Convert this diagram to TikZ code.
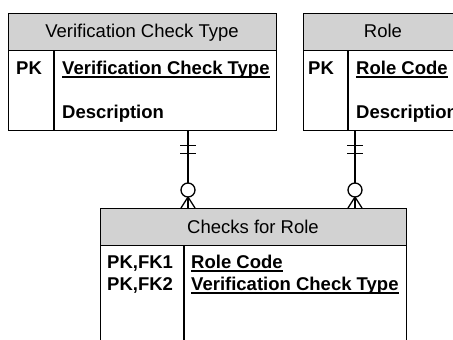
\documentclass[tikz,border=0pt]{standalone}
\usepackage{fontspec}
\setmainfont{Liberation Sans}
\usetikzlibrary{calc}
\definecolor{hdrgray}{RGB}{210,210,210}
\begin{document}
\begin{tikzpicture}[x=1pt,y=-1pt,
  every node/.style={font=\fontsize{18.5}{21}\selectfont},
  boxline/.style={draw=black, line width=1.3pt},
  hdr/.style={boxline, fill=hdrgray, rectangle, inner sep=0pt, anchor=north west},
  bodybox/.style={boxline, fill=white, rectangle, inner sep=0pt, anchor=north west},
  ttl/.style={inner sep=0pt, anchor=base},
  fld/.style={inner sep=0pt, anchor=base west, font=\fontsize{18.5}{21}\selectfont\bfseries},
  ul/.style={line width=1.3pt},
  conn/.style={draw=black, line width=1.3pt}]
\useasboundingbox (0,0) rectangle (453,340);
\begin{scope}
\clip (0,0) rectangle (453,340);
% Verification Check Type
\node[bodybox, minimum width=268pt, minimum height=80pt] (vctB) at (8,50) {};
\node[hdr, minimum width=268pt, minimum height=37pt] (vctH) at (8,13) {};
\draw[boxline] (54,50) -- (54,130);
\node[ttl] (vctT) at (142,37) {Verification Check Type};
\node[fld] (vctPK) at (16,74) {PK};
\node[fld] (vctA1) at (62,74) {Verification Check Type};
\draw[ul] ($(vctA1.base west)+(0,3)$) -- ($(vctA1.base east)+(0,3)$);
\node[fld] (vctA2) at (62,118) {Description};
% Role
\node[bodybox, minimum width=160pt, minimum height=80pt] (roleB) at (303,50) {};
\node[hdr, minimum width=160pt, minimum height=37pt] (roleH) at (303,13) {};
\draw[boxline] (348,50) -- (348,130);
\node[ttl] (roleT) at (383,37) {Role};
\node[fld] (rolePK) at (308,74) {PK};
\node[fld] (roleA1) at (356,74) {Role Code};
\draw[ul] ($(roleA1.base west)+(0,3)$) -- ($(roleA1.base east)+(0,3)$);
\node[fld] (roleA2) at (356,118) {Description};
% Checks for Role
\node[bodybox, minimum width=306pt, minimum height=110pt] (cfrB) at (100,245) {};
\node[hdr, minimum width=306pt, minimum height=37pt] (cfrH) at (100,208) {};
\draw[boxline] (184,245) -- (184,350);
\node[ttl] (cfrT) at (253,233) {Checks for Role};
\node[fld] (cfrK1) at (107,268) {PK,FK1};
\node[fld] (cfrK2) at (107,290) {PK,FK2};
\node[fld] (cfrA1) at (191,268) {Role Code};
\draw[ul] ($(cfrA1.base west)+(0,3)$) -- ($(cfrA1.base east)+(0,3)$);
\node[fld] (cfrA2) at (191,290) {Verification Check Type};
\draw[ul] ($(cfrA2.base west)+(0,3)$) -- ($(cfrA2.base east)+(0,3)$);
% connectors
\coordinate (j1) at (188,0);
\coordinate (j2) at (355,0);
\foreach \p/\j in {vctB/j1, roleB/j2}{
  \coordinate (P) at (\p.south -| \j);
  \coordinate (T) at (cfrH.north -| \j);
  \draw[conn] (P) -- (T);
  \draw[conn] ($(P)+(-8,14)$) -- ($(P)+(8,14)$);
  \draw[conn] ($(P)+(-8,22)$) -- ($(P)+(8,22)$);
  \draw[conn] ($(T)+(0,-11)$) -- ($(T)+(-7,0)$);
  \draw[conn] ($(T)+(0,-11)$) -- ($(T)+(7,0)$);
  \draw[conn, fill=white] ($(T)+(0,-18)$) circle[radius=7pt];
}
\end{scope}
\end{tikzpicture}
\end{document}
